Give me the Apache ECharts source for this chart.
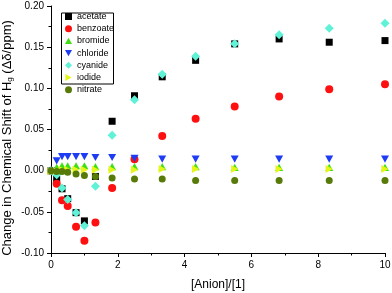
<!DOCTYPE html>
<html><head><meta charset="utf-8">
<script src="https://cdn.jsdelivr.net/npm/echarts@6/dist/echarts.min.js"></script>
<style>html,body{margin:0;padding:0;background:#fff}#c{width:392px;height:293px}</style>
</head><body><div id="c"></div>
<script>
var ratio = [0, 0.17, 0.33, 0.5, 0.75, 1.0, 1.33, 1.83, 2.5, 3.33, 4.33, 5.5, 6.83, 8.33, 10];
var acetate  = [0, -0.010, -0.022, -0.034, -0.051, -0.061, -0.007, 0.060, 0.091, 0.114, 0.134, 0.154, 0.160, 0.156, 0.158];
var benzoate = [0, -0.016, -0.036, -0.043, -0.068, -0.085, -0.063, -0.021, 0.014, 0.042, 0.063, 0.078, 0.090, 0.099, 0.105];
var bromide  = [0, 0.004, 0.006, 0.006, 0.006, 0.006, 0.005, 0.005, 0.005, 0.005, 0.005, 0.004, 0.004, 0.004, 0.004];
var chloride = [0, 0.012, 0.017, 0.017, 0.017, 0.017, 0.016, 0.016, 0.015, 0.014, 0.014, 0.014, 0.014, 0.014, 0.014];
var cyanide  = [0, -0.005, -0.021, -0.035, -0.051, -0.067, -0.019, 0.043, 0.086, 0.117, 0.139, 0.154, 0.165, 0.173, 0.179];
var iodide   = [0, 0.000, 0.001, 0.001, 0.001, 0.001, 0.001, 0.001, 0.001, 0.002, 0.002, 0.002, 0.002, 0.002, 0.002];
var nitrate  = [0, -0.001, -0.001, -0.002, -0.004, -0.006, -0.007, -0.009, -0.010, -0.010, -0.012, -0.012, -0.012, -0.012, -0.012];
var seriesNames = ['acetate', 'benzoate', 'bromide', 'chloride', 'cyanide', 'iodide', 'nitrate'];
var xTitle = '[Anion]/[1]';
var yTitle = 'Change in Chemical Shift of H{sub|g} (Δδ/ppm)';

var FONT = '"Liberation Sans", Arial, sans-serif';
function pairs(ys){ return ratio.map(function(x,i){ return [x, ys[i]]; }); }
var styles = {
  acetate:  {symbol:'rect', size:7, color:'#000000'},
  benzoate: {symbol:'circle', size:8, color:'#ff1010'},
  bromide:  {symbol:'path://M5,0 L10,9 L0,9 Z', size:8, color:'#3ee012'},
  chloride: {symbol:'path://M0,0 L10,0 L5,9 Z', size:8, color:'#1f3cf5'},
  cyanide:  {symbol:'diamond', size:9, color:'#5ff2d6'},
  iodide:   {symbol:'path://M0,0 L9,5 L0,10 Z', size:8, color:'#e6f51a'},
  nitrate:  {symbol:'circle', size:7, color:'#587a08'}
};
var dataMap = {acetate:acetate, benzoate:benzoate, bromide:bromide, chloride:chloride, cyanide:cyanide, iodide:iodide, nitrate:nitrate};

var chart = echarts.init(document.getElementById('c'), null, {renderer:'canvas'});
chart.setOption({
  animation: false,
  textStyle: {fontFamily: FONT},
  grid: {left: 51, right: 7, top: 6, bottom: 40, containLabel: false, outerBoundsMode: 'none'},
  legend: {
    orient: 'vertical', left: 59, top: 11,
    itemWidth: 7, itemHeight: 7, itemGap: 3.2,
    padding: [1, 4, 1, 6],
    textStyle: {fontSize: 9, fontFamily: FONT, color: '#000'},
    data: seriesNames
  },
  graphic: [
    {type:'rect', left: 59, top: 10.5, shape:{width: 52, height: 71}, style:{fill:'none', stroke:'#000', lineWidth:1}, z: 100},
    {type:'text', x: 7, y: 138, rotation: Math.PI/2, z: 100,
      style: {text: yTitle, fontSize: 13, fontFamily: FONT, fill: '#000', align: 'center', verticalAlign: 'middle',
        rich: {sub: {fontSize: 8, fontFamily: FONT, fill: '#000', padding: [6, 0, 0, 0]}}}}
  ],
  xAxis: {
    type: 'value', min: 0, max: 10, interval: 2,
    name: xTitle, nameLocation: 'middle', nameGap: 26,
    nameTextStyle: {fontSize: 12, color: '#000', fontFamily: FONT},
    axisLine: {onZero: false, lineStyle: {color: '#000', width: 1}},
    axisTick: {show: true, inside: false, length: 4, lineStyle: {color: '#000'}},
    minorTick: {show: true, splitNumber: 2, length: 2.5, lineStyle: {color: '#000'}},
    axisLabel: {fontSize: 10, color: '#000', margin: 7, fontFamily: FONT},
    splitLine: {show: false}
  },
  yAxis: {
    type: 'value', min: -0.10, max: 0.20, interval: 0.05,
    axisLine: {onZero: false, lineStyle: {color: '#000', width: 1}},
    axisTick: {show: true, inside: false, length: 4, lineStyle: {color: '#000'}},
    minorTick: {show: true, splitNumber: 2, length: 2.5, lineStyle: {color: '#000'}},
    axisLabel: {fontSize: 10, color: '#000', margin: 7, fontFamily: FONT,
      formatter: function(v){ return v.toFixed(2); }},
    splitLine: {show: false}
  },
  series: seriesNames.map(function(n){
    var s = styles[n];
    return {type:'scatter', name:n, data: pairs(dataMap[n]), symbol: s.symbol, symbolSize: s.size,
      symbolKeepAspect: true, itemStyle: {color: s.color, opacity: 1}};
  })
});
</script></body></html>
